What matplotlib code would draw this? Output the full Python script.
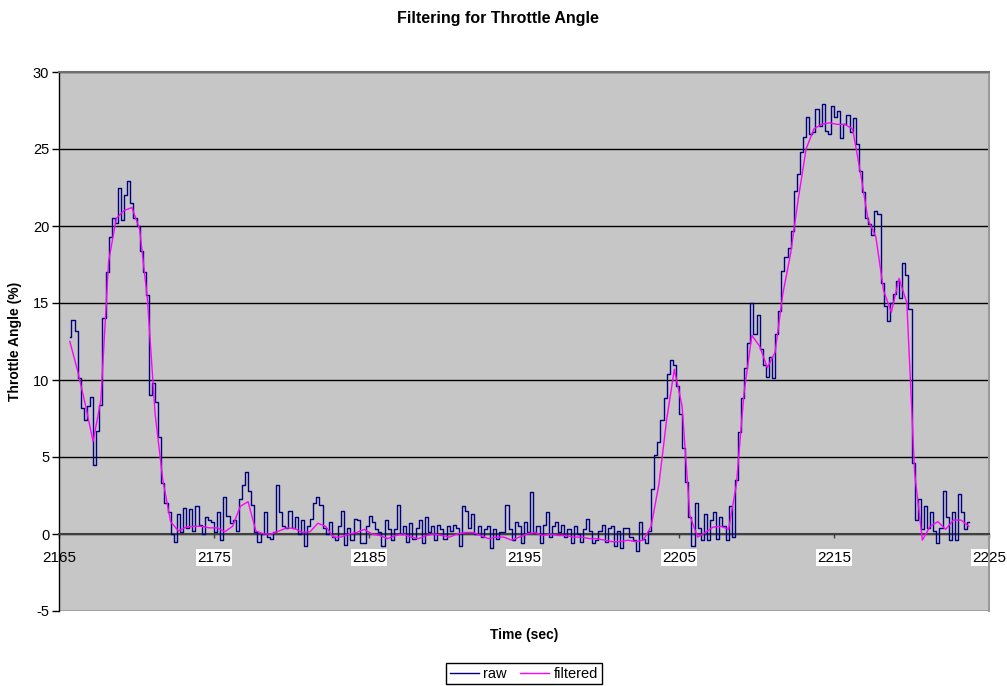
import numpy as np
import matplotlib
matplotlib.use("Agg")
import matplotlib.pyplot as plt

plt.rcParams["font.family"] = ["Liberation Sans", "DejaVu Sans"]
plt.rcParams["axes.unicode_minus"] = False

# raw throttle signal, sampled every 0.2 s from t0
RAW_T0 = 2165.7
RAW_DT = 0.2
raw = [
    12.8, 13.9, 13.2, 10.1, 8.2,
    7.4, 8.3, 8.9, 4.5, 6.7,
    8.4, 14.0, 17.0, 19.3, 20.5,
    20.2, 22.5, 20.4, 22.0, 22.9,
    21.5, 20.5, 20.0, 18.4, 17.0,
    15.5, 9.0, 9.8, 8.6, 6.3,
    3.3, 2.0, 1.4, 0.0, -0.5,
    1.3, 0.1, 1.7, 0.4, 1.6,
    0.2, 1.8, 0.6, 0.0, 1.1,
    0.9, 0.8, 0.1, 1.4, -0.4,
    2.4, 1.2, 0.7, 0.9, 0.2,
    2.3, 3.2, 4.0, 2.8, 1.9,
    0.1, -0.5, 0.0, 1.4, -0.2,
    -0.3, 0.1, 3.2, 1.4, 0.5,
    0.4, 1.5, 0.4, 1.1, 0.0,
    0.9, -0.8, 0.5, 1.0, 2.0,
    2.4, 1.9, 0.4, 0.0, 0.8,
    -0.2, -0.4, 0.5, 1.5, -0.7,
    0.4, -0.4, 1.0, 0.9, -0.6,
    -0.6, 0.5, 1.2, 0.8, 0.3,
    0.1, -0.8, 0.9, 0.3, -0.4,
    0.3, 1.9, 0.0, 0.5, -0.5,
    0.7, -0.3, 0.4, 0.9, -0.6,
    1.1, 0.1, 0.5, -0.4, 0.6,
    0.3, -0.3, 0.5, 0.2, 0.6,
    0.4, -0.8, 1.8, 1.5, 0.4,
    1.3, 0.0, 0.5, -0.2, 0.3,
    0.5, -0.9, 0.3, -0.3, 0.1,
    0.1, 1.9, 0.3, -0.4, 0.8,
    0.5, -0.6, 0.8, 0.1, 2.7,
    0.1, 0.5, -0.6, 0.6, 1.4,
    -0.2, 0.5, 0.8, 0.1, 0.6,
    -0.2, 0.3, -0.6, 0.5, 0.0,
    -0.5, 0.3, 1.0, 0.2, -0.6,
    -0.4, 0.2, 0.6, -0.5, 0.4,
    0.5, -0.8, 0.2, -0.9, 0.4,
    0.4, -0.2, -0.4, -1.1, 0.8,
    -0.3, -0.6, 0.2, 2.9, 5.1,
    6.0, 7.4, 8.8, 10.4, 11.3,
    11.0, 9.6, 7.8, 5.6, 3.4,
    1.1, -0.8, 2.0, 0.4, -0.4,
    1.3, -0.4, 0.9, 1.4, -0.3,
    1.1, 0.5, -0.4, 1.8, -0.2,
    3.5, 6.6, 8.8, 10.8, 12.4,
    15.0, 13.0, 14.2, 12.0, 11.0,
    10.2, 11.5, 10.1, 13.0, 14.5,
    17.1, 18.0, 18.6, 19.7, 22.3,
    23.4, 24.8, 25.8, 27.1, 26.0,
    26.1, 27.6, 26.5, 27.9, 26.2,
    26.0, 27.8, 27.1, 27.5, 25.7,
    26.6, 27.2, 26.1, 27.0, 25.3,
    23.6, 22.2, 20.5, 20.1, 19.4,
    21.0, 20.8, 16.3, 14.8, 13.8,
    15.0, 15.6, 16.4, 15.3, 17.6,
    16.8, 14.6, 4.6, 0.9, 2.3,
    0.3, 1.8, 0.4, 1.4, 0.2,
    -0.6, 0.4, 2.8, 1.1, -0.4,
    1.4, -0.4, 2.6, 1.4, 0.3,
    0.8,
]

# filter output, every 0.5 s
FILT_T0 = 2165.7
FILT_DT = 0.5
filtered = [
    12.5, 10.6, 8.4, 6.0, 8.7, 17.7, 20.5, 21.0, 21.2, 19.8,
    15.3, 7.8, 3.5, 0.8, 0.2, 0.45, 0.5, 0.5, 0.4, 0.4,
    0.15, 0.5, 1.8, 2.1, 0.2, 0.0, 0.0, 0.2, 0.4, 0.35,
    0.1, 0.15, 0.7, 0.5, -0.2, -0.2, 0.0, 0.1, 0.3, 0.0,
    -0.1, -0.3, -0.1, 0.0, -0.2, -0.3, -0.1, 0.0, -0.1, -0.2,
    0.0, 0.1, 0.1, -0.1, -0.3, -0.2, -0.2, -0.4, -0.2, 0.0,
    0.1, -0.1, 0.0, -0.1, -0.1, -0.2, -0.2, -0.3, -0.3, -0.4,
    -0.5, -0.5, -0.4, -0.5, -0.4, 0.5, 3.2, 7.4, 10.7, 8.3,
    1.2, -0.2, 0.1, 0.45, 0.5, 0.3, 3.2, 9.2, 12.9, 12.2,
    10.8, 11.8, 15.6, 18.2, 21.8, 25.0, 26.3, 26.6, 26.7, 26.6,
    26.6, 26.3, 23.5, 20.4, 19.3, 15.8, 14.4, 16.6, 15.0, 4.0,
    -0.4, 0.5, 0.8, 0.3, 0.9, 0.9, 0.5,
]

x_ticks = [2165, 2175, 2185, 2195, 2205, 2215, 2225]
y_ticks = [-5, 0, 5, 10, 15, 20, 25, 30]

t_raw = RAW_T0 + RAW_DT * np.arange(len(raw))
t_filt = FILT_T0 + FILT_DT * np.arange(len(filtered))

W, H = 1007, 686
fig = plt.figure(figsize=(W / 100, H / 100), dpi=100)
ax = fig.add_axes([59 / W, 1 - 611 / H, (989 - 59) / W, (611 - 72) / H])
ax.set_facecolor("#C6C6C6")

# sensor output is quantised, so draw it as held samples
ax.plot(t_raw, raw, color="#000080", lw=1.0, label="raw", zorder=3,
        drawstyle="steps-mid")
ax.plot(t_filt, filtered, color="#FF00FF", lw=1.0, label="filtered", zorder=4)

ax.set_xlim(2165, 2225)
ax.set_ylim(-5, 30)
ax.set_yticks(y_ticks)
ax.set_xticks(x_ticks)
ax.set_xticklabels([str(v) for v in x_ticks])
ax.yaxis.grid(True, color="black", lw=1.0)
ax.set_axisbelow(True)

# category axis crosses at zero, like a spreadsheet chart
ax.spines["bottom"].set_position(("data", 0))
ax.spines["bottom"].set_color("#404040")
ax.spines["bottom"].set_linewidth(1.5)
ax.spines["bottom"].set_zorder(2.5)
ax.spines["top"].set_color("#707070")
ax.spines["top"].set_linewidth(1.5)
ax.spines["right"].set_color("#9A9A9A")
ax.spines["right"].set_linewidth(1.5)
ax.spines["left"].set_color("black")
ax.spines["left"].set_linewidth(1.0)

ax.tick_params(axis="y", direction="out", length=5, width=1, pad=2, labelsize=10.5)
ax.tick_params(axis="x", direction="out", length=3, width=1, pad=9, labelsize=11,
               color="#404040")
for lab in ax.get_xticklabels()[1:]:
    lab.set_bbox(dict(facecolor="white", edgecolor="none", pad=1.0))

ax.set_xlabel("Time (sec)", fontsize=10, fontweight="bold")
ax.xaxis.set_label_coords(0.5, -(628 - 611) / (611 - 72))
ax.set_ylabel("Throttle Angle (%)", fontsize=10, fontweight="bold")
ax.yaxis.set_label_coords(-(59 - 15) / (989 - 59), 0.5)
ax.yaxis.label.set_va("center")

fig.text(498 / W, 1 - 18 / H, "Filtering for Throttle Angle", ha="center",
         va="center", fontsize=11.5, fontweight="bold")

leg = fig.legend(loc="upper center", bbox_to_anchor=(524 / W, 1 - 663 / H), ncol=2,
                 fontsize=10.5, frameon=True, fancybox=False, framealpha=1,
                 edgecolor="black", handlelength=2.0, handletextpad=0.3,
                 columnspacing=0.9, borderpad=0.25, borderaxespad=0)
leg.get_frame().set_linewidth(1.0)

fig.savefig("out.png", dpi=100)
